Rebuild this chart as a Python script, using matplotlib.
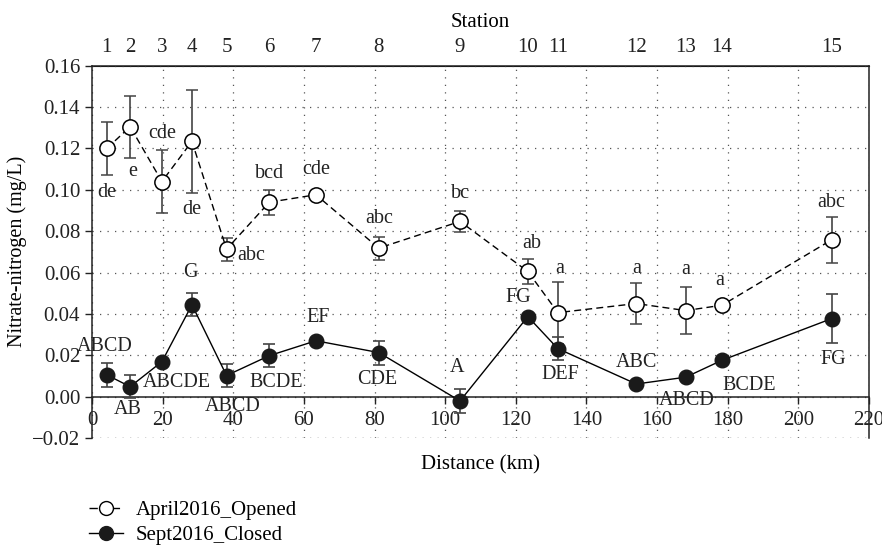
import numpy as np
import matplotlib
matplotlib.use('Agg')
from matplotlib import pyplot as plt, ticker
from matplotlib.lines import Line2D

plt.rcParams['font.family'] = ['Liberation Serif', 'DejaVu Serif']
plt.rcParams['font.size'] = 15

# station distance along the river (km)
stations = [str(i) for i in range(1, 16)]
distance = [4.2, 10.8, 19.8, 28.3, 38.1, 50.2, 63.4, 81.2, 104.2, 123.4, 131.9, 154.1, 168.1, 178.4, 209.4]

# April 2016, gate opened
april = [0.120, 0.1305, 0.104, 0.1234, 0.0713, 0.094, 0.0976, 0.0718, 0.0847, 0.0605,
         0.0406, 0.045, 0.0416, 0.0442, 0.0758]
april_err = [0.0127, 0.015, 0.015, 0.025, 0.0056, 0.006, 0.0, 0.0056, 0.005, 0.006,
             0.015, 0.010, 0.0113, 0.0, 0.011]
april_grp = ['de', 'e', 'cde', 'de', 'abc', 'bcd', 'cde', 'abc', 'bc', 'ab',
             'a', 'a', 'a', 'a', 'abc']

# Sept 2016, gate closed
sept = [0.0105, 0.0048, 0.0169, 0.0444, 0.0102, 0.0198, 0.027, 0.0213, -0.0021, 0.0387,
        0.0232, 0.0061, 0.0094, 0.0176, 0.0377]
sept_err = [0.0057, 0.0057, 0.0, 0.0056, 0.0056, 0.0057, 0.0, 0.0058, 0.0057, 0.0,
            0.0055, 0.0, 0.0, 0.0, 0.0118]
sept_grp = ['ABCD', 'AB', 'ABCDE', 'G', 'ABCD', 'BCDE', 'EF', 'CDE', 'A', 'FG',
            'DEF', 'ABC', 'ABCD', 'BCDE', 'FG']

# label offsets in pixels (dx, dy)
april_off = [(0, -44), (3, -45), (0, 48), (0, -68), (25, -6), (0, 29), (0, 25), (0, 30),
             (0, 28), (4, 28), (2, 44), (0, 35), (0, 41), (-2, 25), (0, 37)]
sept_off = [(-2, 28), (-2, -23), (15, -21), (-2, 32), (6, -31), (7, -27), (2, 23), (-2, -27),
            (-3, 33), (-10, 19), (2, -26), (0, 22), (1, -23), (27, -25), (2, -41)]

fig = plt.figure(figsize=(8.82, 5.47), dpi=100)
ax = fig.add_axes([0.1043, 0.1993, 0.8810, 0.6806])

ax.errorbar(distance, april, yerr=april_err, color='black', ecolor='#444444', elinewidth=1.2,
            capsize=4, capthick=1.2, linestyle=(0, (5, 3)), linewidth=1,
            marker='o', markersize=11, markerfacecolor='white', markeredgecolor='black',
            markeredgewidth=1.1, zorder=3)
ax.errorbar(distance, sept, yerr=sept_err, color='black', ecolor='#444444', elinewidth=1.2,
            capsize=4, capthick=1.2, linestyle='-', linewidth=1,
            marker='o', markersize=10.5, markerfacecolor='#1a1a1a', markeredgecolor='#1a1a1a',
            zorder=3)

for x, y, t, o in zip(distance, april, april_grp, april_off):
    ax.annotate(t, (x, y), xytext=o, textcoords='offset pixels', ha='center', va='center',
                fontsize=14.5, color='#222222')
for x, y, t, o in zip(distance, sept, sept_grp, sept_off):
    ax.annotate(t, (x, y), xytext=o, textcoords='offset pixels', ha='center', va='center',
                fontsize=14.5, color='#222222')

ax.set_xlim(0, 220)
ax.set_ylim(-0.02, 0.16)
ax.set_xticks(np.arange(0, 221, 20))
ax.set_yticks(np.arange(-0.02, 0.161, 0.02))
ax.yaxis.set_major_formatter(ticker.FuncFormatter(lambda v, p: f'{v:.2f}'.replace('-', '\u2212')))

ax.spines['bottom'].set_position(('data', 0))
for s in ax.spines.values():
    s.set_linewidth(1.1)
    s.set_color('#222222')
ax.tick_params(axis='both', direction='out', length=5, width=1, colors='#222222', labelsize=15)
ax.tick_params(axis='x', pad=5)
ax.grid(True, linestyle=(0, (1, 5)), color='#555555', linewidth=0.9)
ax.axhline(-0.02, linestyle=(0, (1, 5)), color='#555555', linewidth=0.9)

ax.set_ylabel('Nitrate-nitrogen (mg/L)', fontsize=14.5)
ax.set_xlabel('Distance (km)', fontsize=15)
ax.xaxis.set_label_coords(0.5, -0.045)
ax.yaxis.set_label_coords(-0.083, 0.5)

top = ax.secondary_xaxis('top')
top.set_xticks(distance)
top.set_xticklabels(stations)
top.tick_params(length=0, pad=6, labelsize=15, colors='#222222')
top.set_xlabel('Station', fontsize=15, labelpad=8)

handles = [Line2D([], [], color='black', linestyle=(0, (6, 10)), linewidth=1, marker='o',
                  markersize=10, markerfacecolor='white', markeredgecolor='black'),
           Line2D([], [], color='black', linestyle='-', linewidth=1, marker='o',
                  markersize=10, markerfacecolor='#1a1a1a', markeredgecolor='#1a1a1a')]
fig.legend(handles, ['April2016_Opened', 'Sept2016_Closed'], loc='upper left',
           bbox_to_anchor=(0.092, 0.1), frameon=False, fontsize=15,
           handlelength=1.6, handletextpad=0.6, labelspacing=0.25, borderaxespad=0)

fig.savefig('out.png', dpi=100)
